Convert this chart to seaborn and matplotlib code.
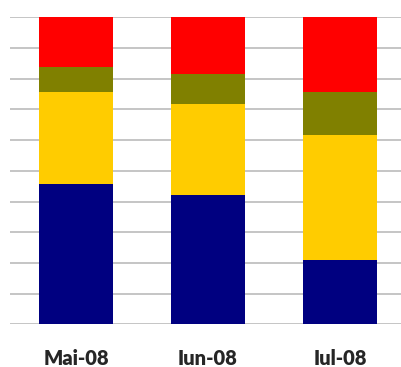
import numpy as np
import pandas as pd
import matplotlib
matplotlib.use("Agg")
import matplotlib.pyplot as plt
import seaborn as sns

# dados (percentagens, 100% empilhado)
months = ["Mai-08", "Iun-08", "Iul-08"]
blue_vals = [45.6, 42.1, 20.8]
yellow_vals = [30.1, 29.6, 40.8]
olive_vals = [8.2, 9.9, 14.1]
red_vals = [16.1, 18.4, 24.3]

series = [blue_vals, yellow_vals, olive_vals, red_vals]
colors = ["#000080", "#FFCC00", "#808000", "#FF0000"]

sns.set_style("white")
plt.rcParams["font.family"] = ["Lato", "DejaVu Sans"]

fig = plt.figure(figsize=(4.01, 3.67), dpi=100)
ax = fig.add_axes([10 / 401, 42.7 / 367, 396 / 401, 307 / 367])

bottom = np.zeros(len(months))
for vals, col in zip(series, colors):
    df = pd.DataFrame({"mes": months, "v": vals})
    sns.barplot(data=df, x="mes", y="v", color=col, width=0.56,
                bottom=bottom, ax=ax, saturation=1, zorder=3,
                edgecolor=col, linewidth=0)
    bottom = bottom + np.array(vals)

ax.set_ylim(0, 100)
ax.set_xlim(-0.5, 2.5)
for y in range(0, 101, 10):
    ax.axhline(y, color="#C0C0C0", linewidth=1.3, zorder=1)

sns.despine(ax=ax, left=True, bottom=True)
ax.set_yticks([])
ax.set_xlabel("")
ax.set_ylabel("")
ax.tick_params(axis="x", length=0, pad=18)
for lab in ax.get_xticklabels():
    lab.set_fontsize(14.5)
    lab.set_fontweight("heavy")

fig.savefig("out.png", dpi=100)
